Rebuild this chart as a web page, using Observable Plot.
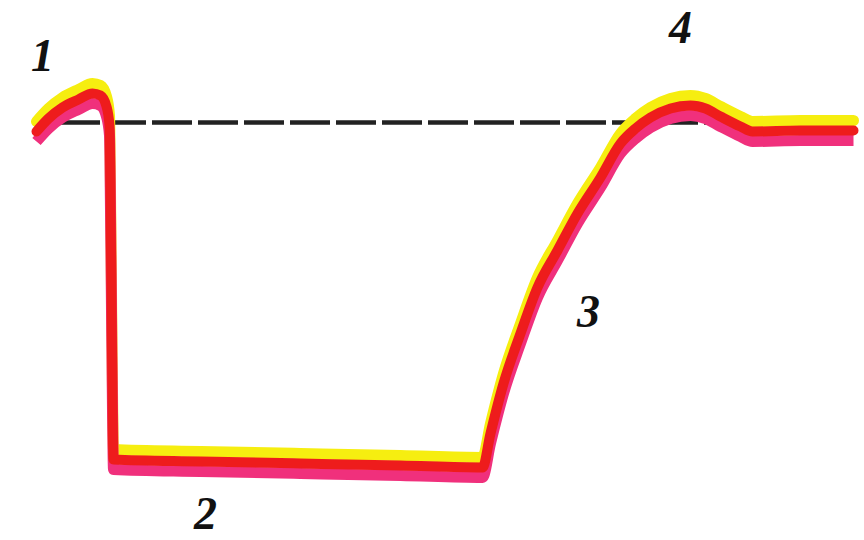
<!DOCTYPE html>
<html>
<head>
<meta charset="utf-8">
<script src="https://cdn.jsdelivr.net/npm/d3@7"></script>
<script src="https://cdn.jsdelivr.net/npm/@observablehq/plot@0.6"></script>
<style>
  html, body { margin: 0; padding: 0; background: #ffffff; }
  #chart { width: 864px; height: 540px; }
</style>
</head>
<body>
<div id="chart"></div>
<script>
// Curve (horizontal position, vertical position; vertical grows downward)
const curveX = [36, 48, 62, 78, 92, 100, 106, 109, 110, 111, 112, 113, 200, 300, 400, 482, 490, 503, 520, 537, 557, 577, 600, 620, 635, 650, 670, 690, 705, 720, 740, 752, 800, 853];
const curveY = [131, 118, 107, 99, 93, 95, 106, 125, 200, 300, 400, 459, 461, 463, 465, 467, 433, 383, 333, 287, 250, 213, 177, 143, 128, 117, 108, 105, 108, 116, 126, 131, 130, 130];

// Resting level (dashed line)
const restLevel = [122];
const restStart = 60;
const restEnd = 718;

// Phase labels
const labelText = ["1", "2", "3", "4"];
const labelX = [42, 205, 588, 680];
const labelY = [56, 514, 312, 28];

const curve = curveX.map((x, i) => ({x, y: curveY[i]}));
const labels = labelText.map((t, i) => ({t, x: labelX[i], y: labelY[i]}));

const plot = Plot.plot({
  width: 864,
  height: 540,
  margin: 0,
  x: {domain: [0, 864], range: [0, 864], axis: null},
  y: {domain: [0, 540], range: [0, 540], axis: null},
  style: {background: "#ffffff"},
  marks: [
    Plot.ruleY(restLevel, {x1: restStart, x2: restEnd, stroke: "#222222", strokeWidth: 4.5, strokeDasharray: "40,6"}),
    Plot.line(curve, {x: "x", y: "y", dy: -10, curve: "monotone-x", stroke: "#f6ee10", strokeWidth: 11, strokeLinejoin: "round", strokeLinecap: "round"}),
    Plot.line(curve, {x: "x", y: "y", dy: 10, curve: "monotone-x", stroke: "#f0307c", strokeWidth: 11, strokeLinejoin: "round", strokeLinecap: "butt"}),
    Plot.line(curve, {x: "x", y: "y", curve: "monotone-x", stroke: "#ee1c1c", strokeWidth: 10, strokeLinejoin: "round", strokeLinecap: "round"}),
    Plot.text(labels, {x: "x", y: "y", text: "t", fontFamily: "Liberation Serif", fontSize: 46, fontWeight: "bold", fontStyle: "italic", fill: "#111", textAnchor: "middle", lineAnchor: "middle"})
  ]
});
document.getElementById("chart").appendChild(plot);
</script>
</body>
</html>
